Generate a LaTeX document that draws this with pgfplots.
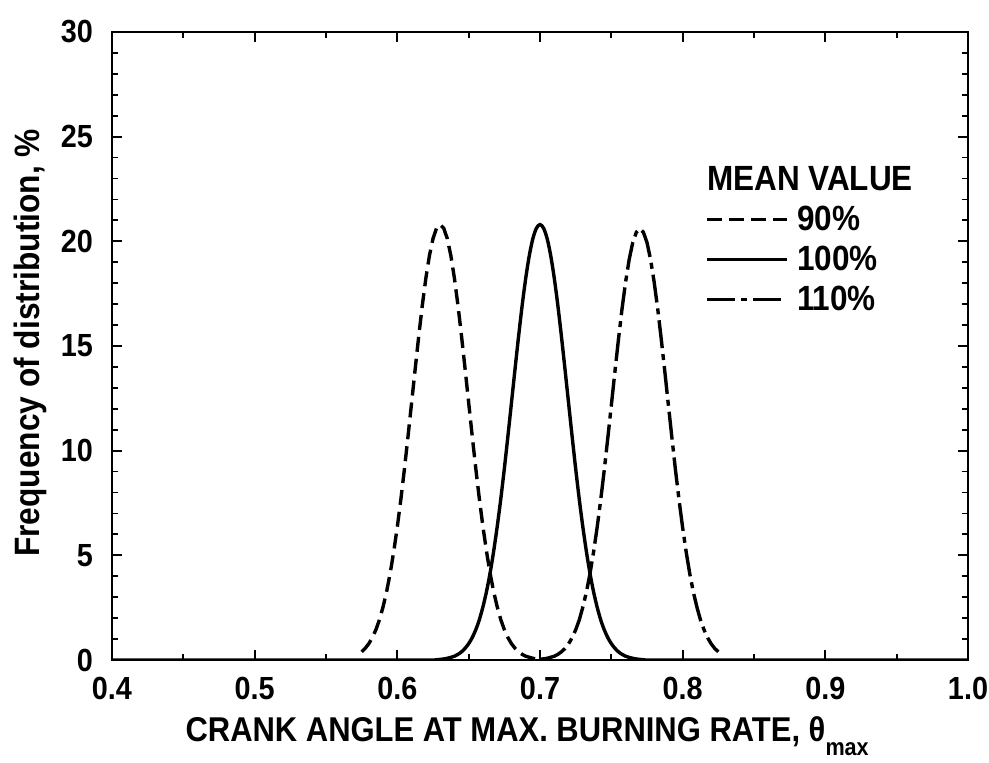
\documentclass[border=0pt]{standalone}
\usepackage{fontspec}
\setmainfont{Liberation Sans}
\newfontfamily\hv{Liberation Sans}[FakeStretch=0.9]
\usepackage{pgfplots}
\pgfplotsset{compat=1.18}
\usepackage{pgfplotstable}

\pgfplotstableread{
x y
0.5750 0.39
0.5775 0.56
0.5800 0.78
0.5825 1.07
0.5850 1.45
0.5875 1.93
0.5900 2.54
0.5925 3.27
0.5950 4.15
0.5975 5.19
0.6000 6.37
0.6025 7.69
0.6050 9.14
0.6075 10.69
0.6100 12.29
0.6125 13.90
0.6150 15.47
0.6175 16.94
0.6200 18.24
0.6225 19.32
0.6250 20.13
0.6275 20.63
0.6300 20.80
0.6325 20.63
0.6350 20.13
0.6375 19.32
0.6400 18.24
0.6425 16.94
0.6450 15.47
0.6475 13.90
0.6500 12.29
0.6525 10.69
0.6550 9.14
0.6575 7.69
0.6600 6.37
0.6625 5.19
0.6650 4.15
0.6675 3.27
0.6700 2.54
0.6725 1.93
0.6750 1.45
0.6775 1.07
0.6800 0.78
0.6825 0.56
0.6850 0.39
0.6875 0.27
0.6900 0.18
0.6950 0.08
0.7000 0.03
}\tninety

\pgfplotstableread{
x y
0.4000 0.00
0.6200 0.00
0.6300 0.03
0.6350 0.08
0.6400 0.18
0.6425 0.27
0.6450 0.39
0.6475 0.56
0.6500 0.78
0.6525 1.07
0.6550 1.45
0.6575 1.93
0.6600 2.54
0.6625 3.27
0.6650 4.15
0.6675 5.19
0.6700 6.37
0.6725 7.69
0.6750 9.14
0.6775 10.69
0.6800 12.29
0.6825 13.90
0.6850 15.47
0.6875 16.94
0.6900 18.24
0.6925 19.32
0.6950 20.13
0.6975 20.63
0.7000 20.80
0.7025 20.63
0.7050 20.13
0.7075 19.32
0.7100 18.24
0.7125 16.94
0.7150 15.47
0.7175 13.90
0.7200 12.29
0.7225 10.69
0.7250 9.14
0.7275 7.69
0.7300 6.37
0.7325 5.19
0.7350 4.15
0.7375 3.27
0.7400 2.54
0.7425 1.93
0.7450 1.45
0.7475 1.07
0.7500 0.78
0.7525 0.56
0.7550 0.39
0.7575 0.27
0.7600 0.18
0.7650 0.08
0.7700 0.03
0.7800 0.00
1.0000 0.00
}\thundred

\pgfplotstableread{
x y
0.7000 0.03
0.7050 0.08
0.7100 0.18
0.7125 0.27
0.7150 0.39
0.7175 0.55
0.7200 0.77
0.7225 1.06
0.7250 1.44
0.7275 1.91
0.7300 2.52
0.7325 3.24
0.7350 4.11
0.7375 5.14
0.7400 6.31
0.7425 7.62
0.7450 9.05
0.7475 10.59
0.7500 12.17
0.7525 13.77
0.7550 15.32
0.7575 16.78
0.7600 18.06
0.7625 19.13
0.7650 19.94
0.7675 20.43
0.7700 20.60
0.7725 20.43
0.7750 19.94
0.7775 19.13
0.7800 18.06
0.7825 16.78
0.7850 15.32
0.7875 13.77
0.7900 12.17
0.7925 10.59
0.7950 9.05
0.7975 7.62
0.8000 6.31
0.8025 5.14
0.8050 4.11
0.8075 3.24
0.8100 2.52
0.8125 1.91
0.8150 1.44
0.8175 1.06
0.8200 0.77
0.8225 0.55
0.8250 0.39
}\tonetenth

\begin{document}
\begin{tikzpicture}
\begin{axis}[
  at={(0,0)}, anchor=south west,
  scale only axis, width=428pt, height=314pt,
  xmin=0.4, xmax=1.0, ymin=0, ymax=30,
  xtick={0.4,0.5,0.6,0.7,0.8,0.9,1.0},
  minor x tick num=1,
  ytick={0,5,10,15,20,25,30},
  minor y tick num=4,
  tick align=inside,
  major tick length=5pt, minor tick length=3pt,
  axis line style={line width=1.3pt},
  every tick/.style={black, line width=0.9pt},
  /pgf/number format/assume math mode=true,
  tick label style={font=\hv\bfseries\fontsize{16}{16}\selectfont},
  xticklabel style={yshift=-5pt, /pgf/number format/.cd, fixed, fixed zerofill, precision=1},
  yticklabel style={xshift=-6pt, /pgf/number format/.cd, fixed, precision=0},
  xlabel={CRANK ANGLE AT MAX. BURNING RATE, θ\raisebox{-7pt}{\fontsize{12}{12}\selectfont max}},
  ylabel={Frequency of distribution, \%},
  xlabel style={font=\hv\bfseries\fontsize{17.2}{17.2}\selectfont, at={(axis description cs:0.485,-0.129)}, anchor=base},
  ylabel style={font=\hv\bfseries\fontsize{17.6}{17.6}\selectfont, at={(axis description cs:-0.0958,0.505)}, anchor=center},
  legend cell align=left,
  legend image code/.code={\draw[#1] (0pt,0pt) -- (40pt,0pt);},
  legend style={draw=none, fill=none, at={(axis description cs:0.686,0.80)}, anchor=north west,
    font=\hv\bfseries\fontsize{17.5}{17.5}\selectfont, row sep=2.3pt,
    nodes={inner xsep=4pt}},
]
\addlegendimage{empty legend}
\addlegendentry{\hspace*{-45pt}MEAN VALUE}
\addplot[black, line width=1.7pt, dash pattern=on 7.5pt off 3.5pt] table {\tninety};
\addlegendentry{90\%}
\addplot[black, line width=1.7pt, smooth] table {\thundred};
\addlegendentry{100\%}
\addplot[black, line width=1.7pt, dash pattern=on 14pt off 3pt on 3pt off 3pt] table {\tonetenth};
\addlegendentry{110\%}
\end{axis}
\pgfresetboundingbox
\path[use as bounding box] (-56pt,-51.5pt) rectangle (438.5pt,330pt);
\end{tikzpicture}
\end{document}
